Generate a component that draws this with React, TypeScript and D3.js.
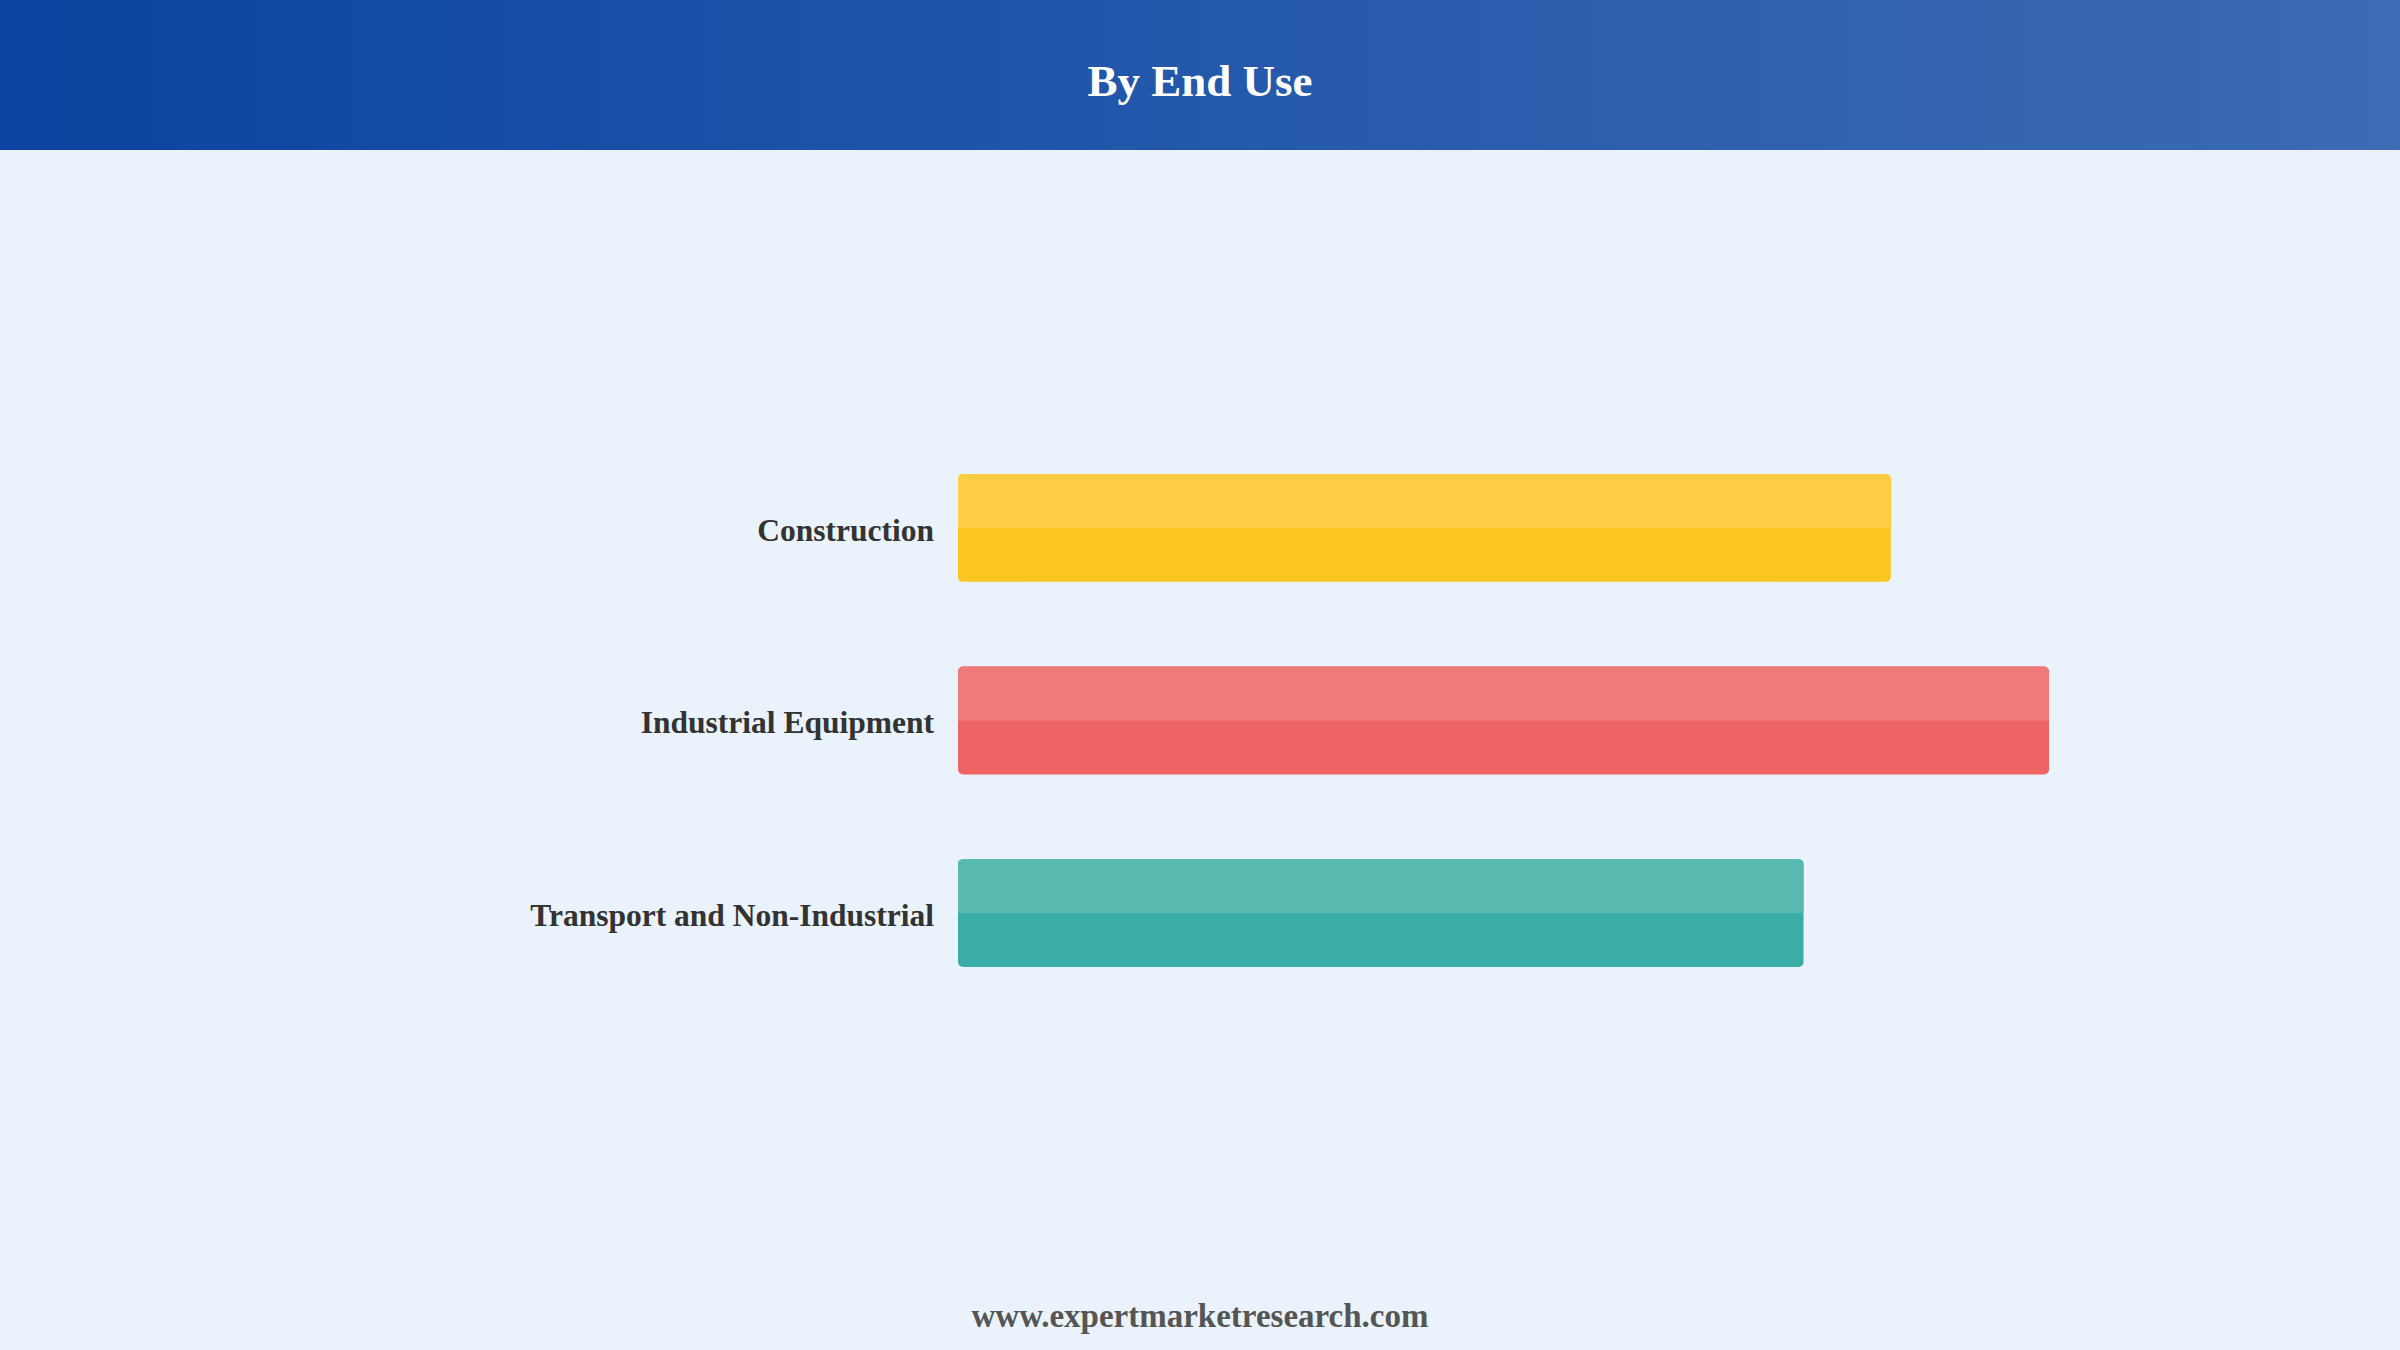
import React from 'react';
import * as d3 from 'd3';

const categories = ['Construction', 'Industrial Equipment', 'Transport and Non-Industrial'];
const values = [34.2, 40, 31.0];
const baseColors = ['#fcc61f', '#ee6464', '#3aaea6'];
const topColors = ['#fdcd44', '#f07979', '#58b9b0'];

const W = 2400;
const H = 1350;
const HEADER_H = 150;

// top half of a bar, only the upper corners rounded
const topHalfPath = (x: number, y: number, w: number, h: number, r: number): string => {
  const p = d3.path();
  p.moveTo(x, y + h);
  p.lineTo(x, y + r);
  p.arcTo(x, y, x + r, y, r);
  p.lineTo(x + w - r, y);
  p.arcTo(x + w, y, x + w, y + r, r);
  p.lineTo(x + w, y + h);
  p.closePath();
  return p.toString();
};

const App: React.FC = () => {
  const x = d3.scaleLinear().domain([0, d3.max(values) ?? 40]).range([958, 2049]);
  const y = d3
    .scaleBand<string>()
    .domain(categories)
    .range([474, 967])
    .paddingInner(0.44)
    .paddingOuter(0);
  const bh = y.bandwidth();
  const radius = 5;

  return (
    <svg
      width={W}
      height={H}
      viewBox={`0 0 ${W} ${H}`}
      style={{ position: 'absolute', left: 0, top: 0, display: 'block' }}
    >
      <defs>
        <linearGradient id="hdr" x1="0" y1="0" x2="1" y2="0">
          <stop offset="0%" stopColor="#0b43a0" />
          <stop offset="50%" stopColor="#2458ab" />
          <stop offset="100%" stopColor="#3d6bb4" />
        </linearGradient>
      </defs>

      <rect x={0} y={0} width={W} height={H} fill="#eaf2fc" />
      <rect x={0} y={0} width={W} height={HEADER_H} fill="url(#hdr)" />
      <text
        x={W / 2}
        y={96}
        textAnchor="middle"
        fill="#ffffff"
        fontFamily="'Liberation Serif', 'Times New Roman', serif"
        fontWeight="bold"
        fontSize={45}
      >
        By End Use
      </text>

      {categories.map((c, i) => {
        const y0 = y(c) ?? 0;
        const x0 = x(0);
        const w = x(values[i]) - x0;
        return (
          <g key={c}>
            <rect x={x0} y={y0} width={w} height={bh} rx={radius} ry={radius} fill={baseColors[i]} />
            <path d={topHalfPath(x0, y0, w, bh / 2, radius)} fill={topColors[i]} />
            <text
              x={934}
              y={y0 + bh / 2}
              dy="0.4em"
              textAnchor="end"
              fill="#333333"
              fontFamily="'Liberation Serif', 'Times New Roman', serif"
              fontWeight="bold"
              fontSize={31.5}
            >
              {c}
            </text>
          </g>
        );
      })}

      <text
        x={W / 2}
        y={1327}
        textAnchor="middle"
        fill="#555555"
        fontFamily="'Liberation Serif', 'Times New Roman', serif"
        fontWeight="bold"
        fontSize={33}
      >
        www.expertmarketresearch.com
      </text>
    </svg>
  );
};

export default App;
